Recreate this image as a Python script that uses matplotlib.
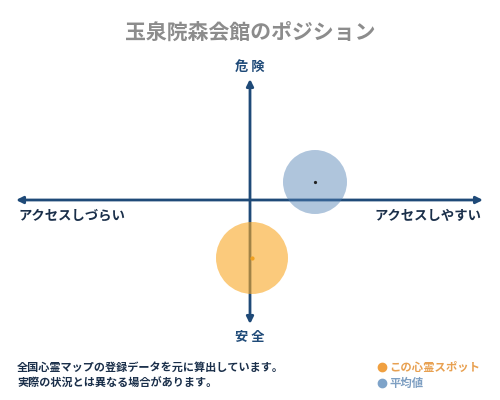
import matplotlib
matplotlib.use("Agg")
import matplotlib.pyplot as plt
from matplotlib.patches import Circle

plt.rcParams['font.family'] = ['Noto Sans CJK JP', 'DejaVu Sans']

title = "玉泉院森会館のポジション"
label_top = "危 険"
label_bottom = "安 全"
label_left = "アクセスしづらい"
label_right = "アクセスしやすい"
note_lines = ["全国心霊マップの登録データを元に算出しています。",
              "実際の状況とは異なる場合があります。"]
legend_names = ["この心霊スポット", "平均値"]

# positions: x = accessibility (+ easier), y = danger (+ dangerous)
series_x = [2, 65]
series_y = [-58, 18]
series_r = [36, 32]
fill_colors = ['#f9a825', '#4f7fb3']
fill_alpha = [0.6, 0.45]
center_colors = ['#f0a020', '#222222']
legend_colors = ['#f0a040', '#7ea3c9']
legend_text_colors = ['#e8a050', '#7e9fc2']

navy = '#1f4a78'

fig = plt.figure(figsize=(5, 4), dpi=100)
ax = fig.add_axes([0, 0, 1, 1])
ax.set_xlim(-250, 250)
ax.set_ylim(-200, 200)
ax.axis('off')

# axes with arrows
ax.annotate('', xy=(-234, 0), xytext=(233, 0),
            arrowprops=dict(arrowstyle='<|-|>', color=navy, lw=2,
                            mutation_scale=10, shrinkA=0, shrinkB=0))
ax.annotate('', xy=(0, 121), xytext=(0, -124),
            arrowprops=dict(arrowstyle='<|-|>', color=navy, lw=2,
                            mutation_scale=10, shrinkA=0, shrinkB=0))

for x, y, r, c, a, cc in zip(series_x, series_y, series_r, fill_colors, fill_alpha, center_colors):
    ax.add_patch(Circle((x, y), r, facecolor=c, edgecolor='none', alpha=a, zorder=3))
    ax.plot([x], [y], marker='o', ms=2 if cc != '#222222' else 1.3, color=cc, zorder=4)

ax.text(0, 168, title, ha='center', va='center', fontsize=15, color='#8c8c8c', fontweight='bold')
ax.text(0, 133, label_top, ha='center', va='center', fontsize=9.5, color=navy, fontweight='bold')
ax.text(0, -137, label_bottom, ha='center', va='center', fontsize=9.5, color=navy, fontweight='bold')
ax.text(-232, -16, label_left, ha='left', va='center', fontsize=9.6, color='#1a2f4a', fontweight='bold')
ax.text(231, -16, label_right, ha='right', va='center', fontsize=9.6, color='#1a2f4a', fontweight='bold')

ax.text(-233, -167, note_lines[0], ha='left', va='center', fontsize=8, color='#1a2f4a', fontweight='bold')
ax.text(-233, -183, note_lines[1], ha='left', va='center', fontsize=8, color='#1a2f4a', fontweight='bold')

for i, (name, c, tc) in enumerate(zip(legend_names, legend_colors, legend_text_colors)):
    yy = -167 - 16 * i
    ax.plot([132], [yy], marker='o', ms=6, color=c)
    ax.text(139, yy, name, ha='left', va='center', fontsize=8.2, color=tc, fontweight='bold')

fig.savefig('out.png', dpi=100)
